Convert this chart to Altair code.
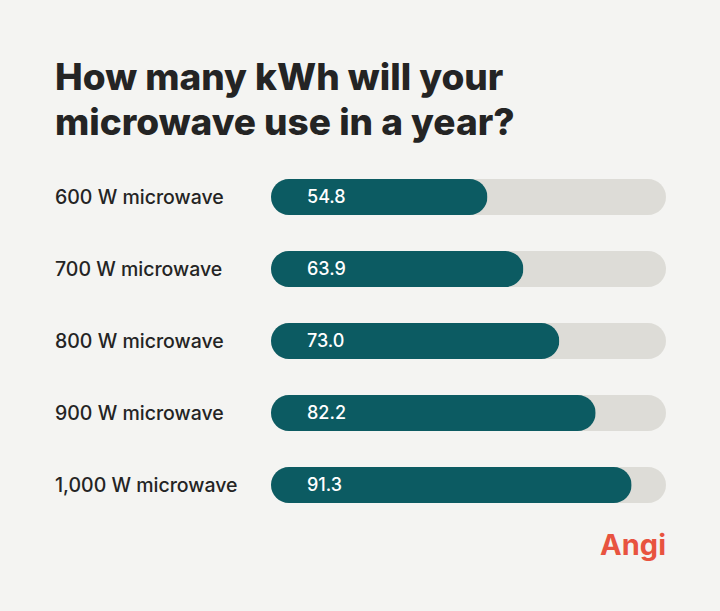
import altair as alt
import pandas as pd

labels = ["600 W microwave", "700 W microwave", "800 W microwave", "900 W microwave", "1,000 W microwave"]
values = [54.8, 63.9, 73.0, 82.2, 91.3]
value_text = ["54.8", "63.9", "73.0", "82.2", "91.3"]
track_max = [100, 100, 100, 100, 100]

title_lines = ["How many kWh will your", "microwave use in a year?"]

df = pd.DataFrame({"label": labels, "value": values, "text": value_text, "track": track_max})

W, H = 395, 360
BG = "#f4f4f2"
TEAL = "#0c5b62"
TRACK = "#dddcd7"
DARK = "#242424"

y_enc = alt.Y("label:N", sort=labels, axis=None,
              scale=alt.Scale(paddingInner=0.5, paddingOuter=0.25))
x_scale = alt.Scale(domain=[0, 100], nice=False, zero=True)

base = alt.Chart(df)

track = base.mark_bar(color=TRACK, cornerRadius=18).encode(
    x=alt.X("track:Q", scale=x_scale, axis=None), y=y_enc)

bars = base.mark_bar(color=TEAL, cornerRadius=18).encode(
    x=alt.X("value:Q", scale=x_scale, axis=None), y=y_enc)

val_text = base.mark_text(align="left", baseline="middle", color="white",
                          font="Inter", fontSize=18, fontWeight=500, dy=1).encode(
    x=alt.value(36), y=y_enc, text="text:N")

cat_text = base.mark_text(align="left", baseline="middle", color=DARK,
                          font="Inter", fontSize=19.5, fontWeight=500, dy=1).encode(
    x=alt.value(-216), y=y_enc, text="label:N")

tdf = pd.DataFrame({"line": title_lines, "ypos": [-71, -26]})
title = alt.Chart(tdf).mark_text(align="left", baseline="alphabetic", color=DARK,
                                 font="Inter", fontSize=37, fontWeight=800).encode(
    x=alt.value(-216), y=alt.Y("ypos:Q", scale=None), text="line:N")

logo = alt.Chart(pd.DataFrame({"t": ["Angi"]})).mark_text(
    align="right", baseline="alphabetic", color="#e8533f",
    font="Inter", fontSize=29, fontWeight=700).encode(
    x=alt.value(W), y=alt.value(H + 34), text="t:N")

chart = alt.layer(track, bars, val_text, cat_text, title, logo).properties(
    width=W, height=H,
    autosize=alt.AutoSizeParams(type="none"),
    padding={"left": 271, "top": 161, "right": 54, "bottom": 90},
    background=BG,
).configure_view(stroke=None)

chart.save("out.html", embed_options={"renderer": "svg", "actions": False})
